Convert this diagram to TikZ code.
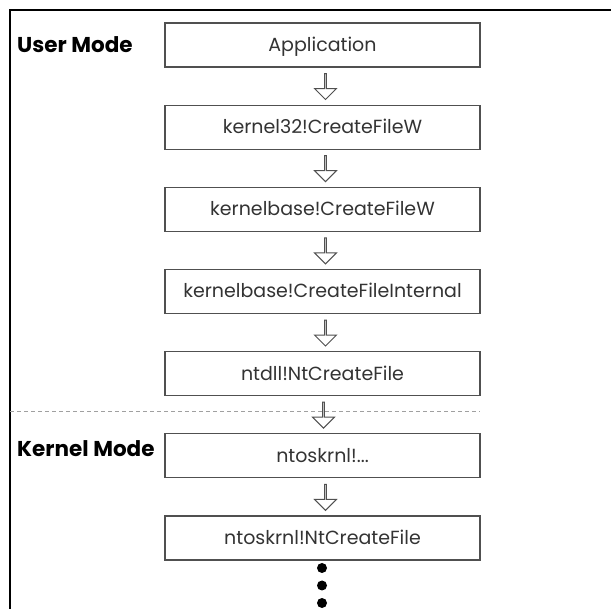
\documentclass[tikz,border=0pt]{standalone}
\usepackage{fontspec}
\setmainfont{Poppins}
\usepackage{tikz}
\usetikzlibrary{shapes.arrows}
\definecolor{boxline}{HTML}{505050}
\definecolor{txtgray}{HTML}{333333}
\definecolor{dashgray}{HTML}{A0A0A0}

\begin{document}
\begin{tikzpicture}[x=1pt,y=-1pt,
    callbox/.style={draw=boxline, line width=1.3pt, minimum width=315pt,
        minimum height=44pt, inner sep=0pt, text=txtgray,
        text height=13pt, text depth=0pt, yshift=-1pt,
        font=\fontsize{19}{23}\selectfont},
    modelabel/.style={anchor=west, inner sep=0pt, text=black,
        font=\fontsize{21.5}{25}\selectfont\bfseries},
    downarrow/.style={single arrow, draw=boxline, fill=white, line width=1pt,
        minimum height=26pt, minimum width=22pt, single arrow head extend=6pt,
        inner sep=0pt, rotate=-90}]
    \useasboundingbox (0,0) rectangle (611,609);
    \clip (0,0) rectangle (611,609);
    % Outer frame (runs off the page)
    \draw[line width=1.5pt] (10,650) -- (10,10) -- (650,10);
    % Mode labels
    \node[modelabel] (user) at (17,45) {User Mode};
    \node[modelabel] (kernel) at (17,449) {Kernel Mode};
    % Call chain
    \node[callbox] (app) at (322.5,44) {Application};
    \node[callbox] (k32) at (322.5,126.2) {kernel32!CreateFileW};
    \node[callbox] (kbase) at (322.5,208.3) {kernelbase!CreateFileW};
    \node[callbox] (kint) at (322.5,290.5) {kernelbase!CreateFileInternal};
    \node[callbox] (ntdll) at (322.5,372.7) {ntdll!NtCreateFile};
    \node[callbox] (nto) at (322.5,454.8) {ntoskrnl!...};
    \node[callbox] (ntcf) at (322.5,537) {ntoskrnl!NtCreateFile};
    % User/kernel boundary
    \draw[dashgray, line width=1pt, dash pattern=on 4pt off 3pt] (10,412) -- (480,412);
    % Arrows between calls
    \path (app) -- (k32) node[midway, downarrow, yshift=3pt] {};
    \path (k32) -- (kbase) node[midway, downarrow, yshift=3pt] {};
    \path (kbase) -- (kint) node[midway, downarrow, yshift=3pt] {};
    \path (kint) -- (ntdll) node[midway, downarrow, yshift=3pt] {};
    \path (ntdll) -- (nto) node[midway, downarrow, yshift=1pt] {};
    \path (nto) -- (ntcf) node[midway, downarrow, yshift=3pt] {};
    % More calls follow
    \fill (322,568) circle (5);
    \fill (322,585.5) circle (5);
    \fill (322,603) circle (5);
\end{tikzpicture}
\end{document}
